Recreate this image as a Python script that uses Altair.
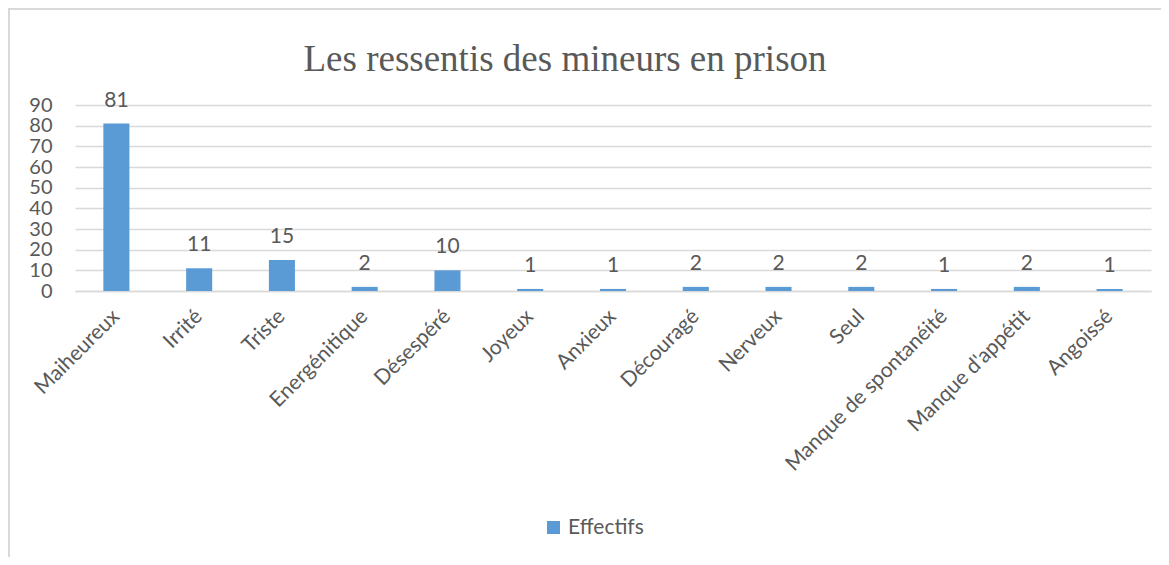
import altair as alt
import pandas as pd

categories = ["Maiheureux", "Irrité", "Triste", "Energénitique", "Désespéré", "Joyeux",
              "Anxieux", "Découragé", "Nerveux", "Seul", "Manque de spontanéité",
              "Manque d'appétit", "Angoissé"]
values = [81, 11, 15, 2, 10, 1, 1, 2, 2, 2, 1, 2, 1]
series_name = "Effectifs"
y_ticks = [0, 10, 20, 30, 40, 50, 60, 70, 80, 90]
title_text = "Les ressentis des mineurs en prison"

df = pd.DataFrame({"cat": categories, "val": values, "serie": [series_name] * len(values)})

BLUE = "#5B9BD5"
GREY = "#595959"
LINE = "#D9D9D9"
FONT = "Lato"

x_enc = alt.X("cat:N", sort=categories,
              scale=alt.Scale(paddingInner=0.685, paddingOuter=0.3425),
              axis=alt.Axis(title=None, labelAngle=-45, labelAlign="right", labelBaseline="middle",
                            labelPadding=22, labelOffset=0, ticks=False, domain=True,
                            domainColor=LINE, domainWidth=1.5, labelFont=FONT, labelFontSize=21,
                            labelColor=GREY, grid=False, labelLimit=400, labelOverlap=False))
y_enc = alt.Y("val:Q", scale=alt.Scale(domain=[0, 90], nice=False),
              axis=alt.Axis(title=None, values=y_ticks, tickCount=10, grid=True, gridColor=LINE,
                            gridWidth=1.5, domain=False, ticks=False, labelPadding=23,
                            labelFont=FONT, labelFontSize=20, labelColor=GREY,
                            labelOverlap=False, labelBound=False, labelFlush=False))

bars = alt.Chart(df).mark_bar().encode(
    x=x_enc, y=y_enc,
    color=alt.Color("serie:N", scale=alt.Scale(range=[BLUE]),
                    legend=alt.Legend(title=None, orient="none", legendX=468, legendY=412,
                                      symbolType="square", symbolSize=169, symbolStrokeWidth=0,
                                      labelFont=FONT, labelFontSize=21, labelColor=GREY,
                                      padding=0, labelOffset=4)),
)

labels = alt.Chart(df).mark_text(baseline="alphabetic", dy=-17, font=FONT, fontSize=21, color=GREY).encode(
    x=x_enc, y=y_enc, text="val:Q")

left_border = alt.Chart(df).mark_rule(color=LINE, strokeWidth=2).encode(
    x=alt.value(-66), y=alt.value(-96), y2=alt.value(460))
top_border = alt.Chart(df).mark_rule(color=LINE, strokeWidth=2).encode(
    x=alt.value(-67), x2=alt.value(1100), y=alt.value(-96))

title = alt.Chart(pd.DataFrame({"t": [title_text]})).mark_text(
    font="Liberation Serif", fontSize=37, color=GREY, align="center", baseline="alphabetic"
).encode(text="t:N", x=alt.value(490), y=alt.value(-34))

chart = alt.layer(left_border, top_border, bars, labels, title).properties(
    width=1076, height=186,
    autosize=alt.AutoSizeParams(type="none"),
    padding={"left": 67, "top": 97, "right": 10, "bottom": 266},
).configure_view(stroke=None)

chart.save("out.html", embed_options={"renderer": "svg", "actions": False})
